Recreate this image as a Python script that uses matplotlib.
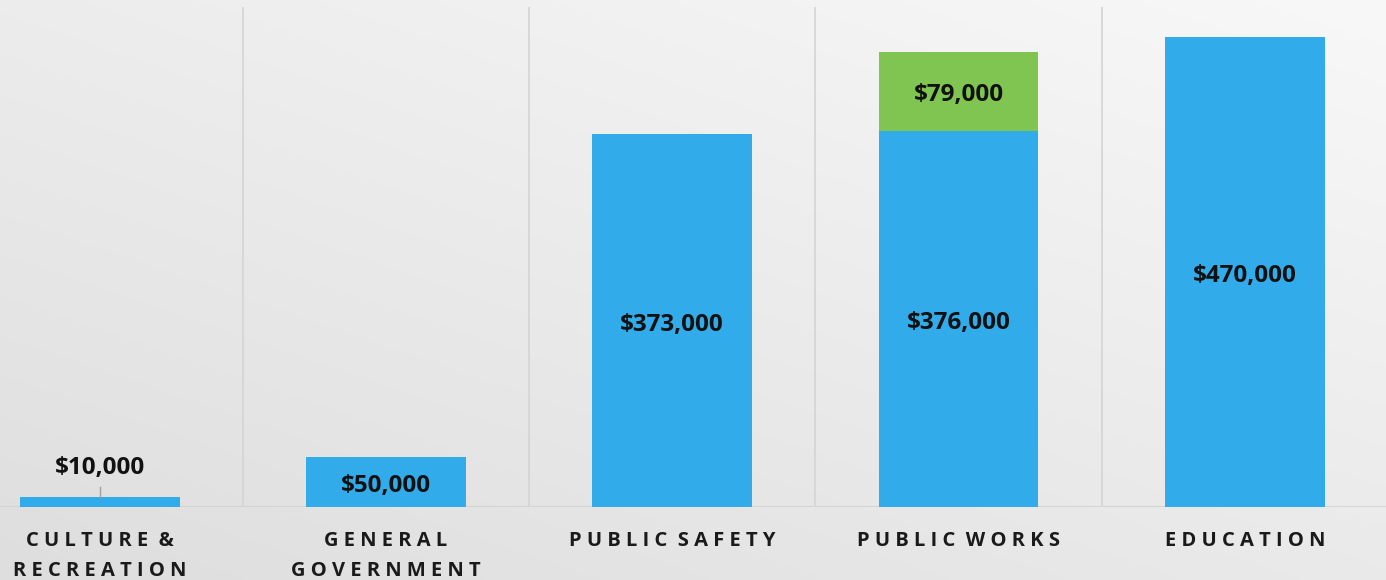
import numpy as np
import matplotlib
matplotlib.use('Agg')
import matplotlib.pyplot as plt

plt.rcParams['font.family'] = ['Open Sans', 'DejaVu Sans']

# ============ data ============
categories = ['CULTURE &\nRECREATION', 'GENERAL\nGOVERNMENT', 'PUBLIC SAFETY',
              'PUBLIC WORKS', 'EDUCATION']
base_vals = [10000, 50000, 373000, 376000, 470000]
extra_vals = [0, 0, 0, 79000, 0]

blue = '#31abe9'
green = '#80c451'


def spaced(s):
    # fake letter spacing
    lines = []
    for line in s.split('\n'):
        words = [' '.join(list(w)) for w in line.split(' ')]
        lines.append('  '.join(words))
    return '\n'.join(lines)


fig = plt.figure(figsize=(13.86, 5.80), dpi=100)

# background gradient
bg = fig.add_axes([0, 0, 1, 1], zorder=-10)
xx, yy = np.meshgrid(np.linspace(0, 1, 200), np.linspace(0, 1, 200))
grad = 0.45 * xx + 0.55 * yy
bg.imshow(grad, cmap=matplotlib.colors.LinearSegmentedColormap.from_list(
    'g', ['#dedede', '#f8f8f8']), origin='lower', extent=[0, 1, 0, 1],
    aspect='auto')
bg.axis('off')

ax = fig.add_axes([0, 73 / 580, 1, 500 / 580])
ax.patch.set_alpha(0)
x = np.arange(len(categories))
w = 0.558
ax.bar(x, base_vals, width=w, color=blue, zorder=3)
ax.bar(x, extra_vals, width=w, bottom=base_vals, color=green, zorder=3)

ax.set_xlim(-0.348, 4.493)
ax.set_ylim(0, 500000)

for b in np.arange(0.5, len(categories) - 0.5, 1):
    ax.axvline(b, color='#d4d4d4', lw=1.2, zorder=1)
ax.axhline(0, color='#d4d4d4', lw=1.5, zorder=2)

lab_kw = dict(ha='center', va='center', fontsize=17.5, fontweight='bold',
              color='#111111', zorder=5)
for i, v in enumerate(base_vals):
    if v < 30000:
        ax.text(i, v + 29000, f'${v:,}', **lab_kw)
        ax.plot([i, i], [v, v + 10000], color='#a0a0a0', lw=1, zorder=4)
    else:
        ax.text(i, v / 2 - 4000, f'${v:,}', **lab_kw)
for i, e in enumerate(extra_vals):
    if e:
        ax.text(i, base_vals[i] + e / 2 - 3000, f'${e:,}', **lab_kw)

for i, c in enumerate(categories):
    ax.text(i, -24000, spaced(c), ha='center', va='top', fontsize=14.5,
            fontweight='bold', color='#1a1a1a', linespacing=1.65)

for s in ax.spines.values():
    s.set_visible(False)
ax.set_xticks([])
ax.set_yticks([])

fig.savefig('out.png', dpi=100)
